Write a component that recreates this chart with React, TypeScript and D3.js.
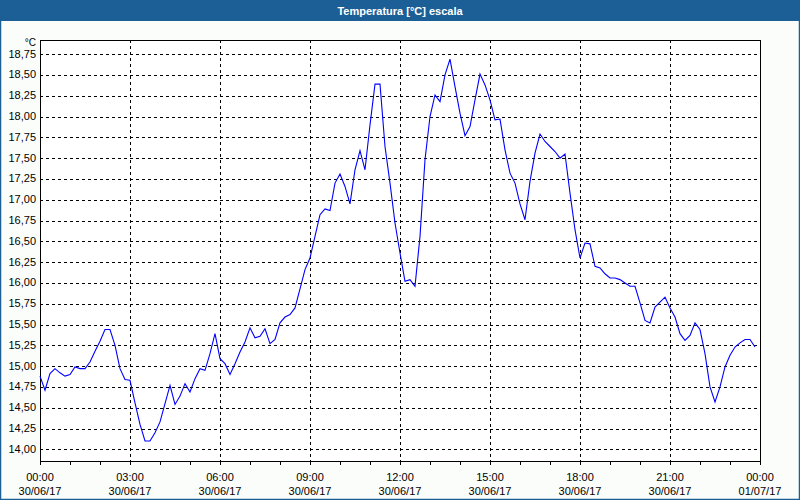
import React, { useEffect, useRef } from 'react';
import * as d3 from 'd3';

// 10-minute samples from 30/06/17 00:00 to 23:50
const startTime = new Date(2017, 5, 30, 0, 0);
const stepMinutes = 10;
const temps = [
  14.88, 14.71, 14.91, 14.97, 14.92, 14.88, 14.9, 14.99, 14.97, 14.97,
  15.05, 15.18, 15.3, 15.44, 15.44, 15.25, 14.97, 14.84, 14.83, 14.56,
  14.3, 14.1, 14.1, 14.2, 14.33, 14.55, 14.77, 14.54, 14.64, 14.79,
  14.69, 14.85, 14.97, 14.95, 15.15, 15.39, 15.09, 15.03, 14.9, 15.03,
  15.17, 15.29, 15.46, 15.34, 15.36, 15.45, 15.27, 15.32, 15.52, 15.59,
  15.62, 15.7, 15.93, 16.16, 16.3, 16.56, 16.82, 16.89, 16.87, 17.2,
  17.31, 17.16, 16.95, 17.36, 17.59, 17.36, 17.9, 18.39, 18.39, 17.64,
  17.2, 16.72, 16.36, 16.02, 16.04, 15.96, 16.56, 17.48, 18.0, 18.26,
  18.18, 18.5, 18.69, 18.36, 18.04, 17.77, 17.88, 18.2, 18.51, 18.38,
  18.2, 17.96, 17.97, 17.6, 17.32, 17.2, 16.95, 16.76, 17.22, 17.56,
  17.79, 17.7, 17.64, 17.58, 17.5, 17.55, 17.08, 16.64, 16.3, 16.48,
  16.47, 16.2, 16.18, 16.11, 16.06, 16.06, 16.04, 16.0, 15.96, 15.96,
  15.76, 15.55, 15.52, 15.71, 15.77, 15.83, 15.7, 15.59, 15.39, 15.31,
  15.37, 15.52, 15.44, 15.15, 14.75, 14.57, 14.75, 14.99, 15.13, 15.23,
  15.28, 15.32, 15.32, 15.23,
];

const yTicks = [
  14.0, 14.25, 14.5, 14.75, 15.0, 15.25, 15.5, 15.75, 16.0, 16.25,
  16.5, 16.75, 17.0, 17.25, 17.5, 17.75, 18.0, 18.25, 18.5, 18.75,
];
const xLabelHours = [0, 3, 6, 9, 12, 15, 18, 21, 24];
const title = 'Temperatura [°C] escala';
const unit = '°C';

const W = 800;
const H = 500;
const M = { left: 40, right: 40, top: 40, bottom: 39 };
const FONT = '"Liberation Sans", Arial, sans-serif';

export default function App() {
  const ref = useRef<SVGSVGElement>(null);

  useEffect(() => {
    document.body.style.margin = '0';
    if (!ref.current) return;
    const svg = d3.select(ref.current);
    svg.selectAll('*').remove();

    const endTime = d3.timeHour.offset(startTime, 24);
    const x = d3.scaleTime().domain([startTime, endTime]).range([M.left, W - M.right]);
    const y = d3.scaleLinear().domain([13.86, 18.92]).range([H - M.bottom, M.top]);
    const locale = d3.formatLocale({ decimal: ',', thousands: '.', grouping: [3], currency: ['', '€'] });
    const fmtY = locale.format('.2f');
    const fmtTime = d3.timeFormat('%H:%M');
    const fmtDate = d3.timeFormat('%d/%m/%y');

    const data = temps.map((v, i) => ({ t: d3.timeMinute.offset(startTime, i * stepMinutes), v }));

    // frame
    svg.append('rect').attr('width', W).attr('height', H).attr('fill', '#fbfdfb');
    svg.append('rect').attr('x', 0.5).attr('y', 0.5).attr('width', W - 1).attr('height', H - 1)
      .attr('fill', 'none').attr('stroke', '#1c5f96').attr('stroke-width', 1.5);
    svg.append('rect').attr('width', W).attr('height', 21).attr('fill', '#1c5f96');
    svg.append('text').attr('x', W / 2).attr('y', 14.5).attr('text-anchor', 'middle')
      .attr('font-family', FONT).attr('font-size', 11).attr('font-weight', 'bold')
      .attr('fill', '#ffffff').text(title);

    const x0 = M.left, x1 = W - M.right, y0 = M.top, y1 = H - M.bottom;

    svg.append('rect').attr('x', x0).attr('y', y0).attr('width', x1 - x0).attr('height', y1 - y0)
      .attr('fill', '#ffffff');

    // grid
    const g = svg.append('g').attr('stroke', '#000').attr('stroke-dasharray', '3,3')
      .attr('shape-rendering', 'crispEdges');
    g.selectAll('line.h').data(yTicks).join('line').attr('class', 'h')
      .attr('x1', x0).attr('x2', x1)
      .attr('y1', d => Math.round(y(d)) + 0.5).attr('y2', d => Math.round(y(d)) + 0.5);
    g.selectAll('line.v').data(xLabelHours.slice(1, -1)).join('line').attr('class', 'v')
      .attr('x1', d => Math.round(x(d3.timeHour.offset(startTime, d))) + 0.5)
      .attr('x2', d => Math.round(x(d3.timeHour.offset(startTime, d))) + 0.5)
      .attr('y1', y0).attr('y2', y1);

    // hourly ticks
    svg.append('g').attr('stroke', '#000').attr('shape-rendering', 'crispEdges')
      .selectAll('line').data(d3.timeHour.range(startTime, d3.timeHour.offset(endTime, 1)))
      .join('line')
      .attr('x1', d => Math.round(x(d)) + 0.5).attr('x2', d => Math.round(x(d)) + 0.5)
      .attr('y1', y1).attr('y2', y1 + 4);

    // border
    svg.append('rect').attr('x', x0 + 0.5).attr('y', y0 + 0.5).attr('width', x1 - x0)
      .attr('height', y1 - y0).attr('fill', 'none').attr('stroke', '#000')
      .attr('shape-rendering', 'crispEdges');

    // line
    const line = d3.line<{ t: Date; v: number }>().x(d => x(d.t)).y(d => y(d.v));
    svg.append('path').datum(data).attr('d', line).attr('fill', 'none')
      .attr('stroke', '#0000ff').attr('stroke-width', 1.1);

    // y labels
    const yl = svg.append('g').attr('font-family', FONT).attr('font-size', 11).attr('fill', '#000')
      .attr('text-anchor', 'end');
    yl.selectAll('text').data(yTicks).join('text')
      .attr('x', 36).attr('y', d => y(d) + 3.5).text(d => fmtY(d));
    yl.append('text').attr('x', 36).attr('y', y0 + 6).attr('font-size', 10).text(unit);

    // x labels
    const xl = svg.append('g').attr('font-family', FONT).attr('font-size', 11).attr('fill', '#000')
      .attr('text-anchor', 'middle');
    const labs = xl.selectAll('g').data(xLabelHours.map(h => d3.timeHour.offset(startTime, h))).join('g');
    labs.append('text').attr('x', d => x(d)).attr('y', y1 + 20).text(d => fmtTime(d));
    labs.append('text').attr('x', d => x(d)).attr('y', y1 + 34).text(d => fmtDate(d));
  }, []);

  return <svg ref={ref} width={W} height={H} style={{ display: 'block' }} />;
}
